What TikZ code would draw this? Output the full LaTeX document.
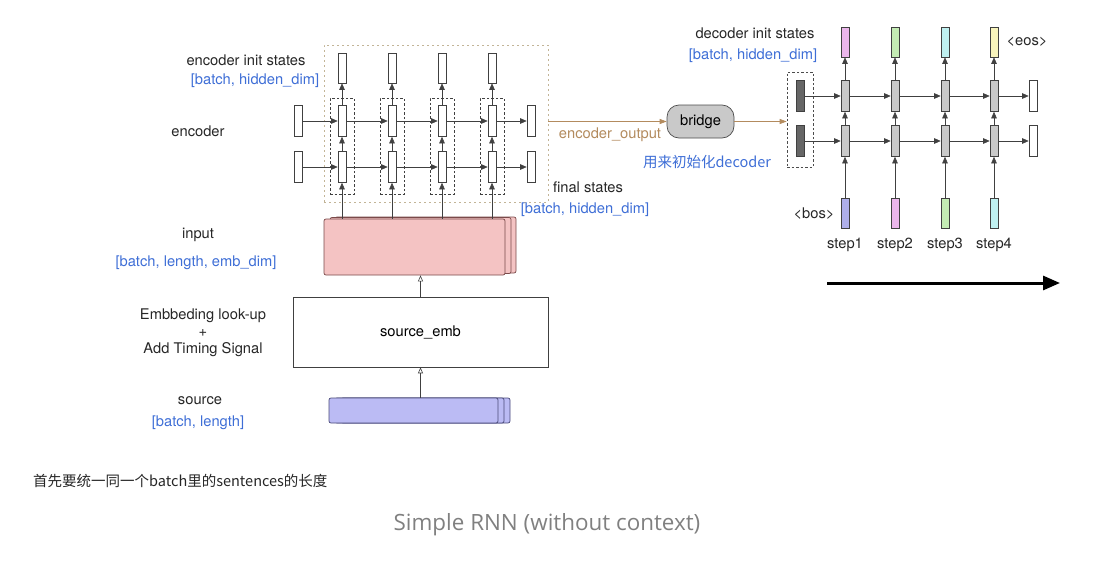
\documentclass[tikz,border=0pt]{standalone}
\usepackage{fontspec}
\setmainfont{TeX Gyre Heros}
\newfontfamily\cjkfont{Noto Sans CJK SC}
\newfontfamily\capfont{Open Sans}
\usetikzlibrary{arrows.meta, positioning}

\definecolor{dimblue}{HTML}{3E6ED6}
\definecolor{tanline}{HTML}{B38B5E}
\definecolor{framedot}{HTML}{C2B497}
\definecolor{pinkfill}{HTML}{F4C3C3}
\definecolor{pinkedge}{HTML}{7A4A4A}
\definecolor{srcfill}{HTML}{BBBBF4}
\definecolor{srcedge}{HTML}{4A4A7A}
\definecolor{cellgray}{HTML}{C9C9C9}
\definecolor{darkcell}{HTML}{666666}
\definecolor{outpink}{HTML}{EBB6EB}
\definecolor{outgreen}{HTML}{C4ECB4}
\definecolor{outcyan}{HTML}{BFF0F0}
\definecolor{outyellow}{HTML}{F8F4BC}
\definecolor{bosblue}{HTML}{AFAFEA}

\begin{document}
\begin{tikzpicture}[x=1pt, y=-1pt,
    font=\fontsize{14.7}{17}\selectfont,
    cell/.style={rectangle, draw=black!75, fill=white, minimum width=8pt, minimum height=31pt, inner sep=0pt, line width=0.6pt},
    deccell/.style={cell, fill=cellgray},
    initcell/.style={cell, fill=darkcell},
    txt/.style={text=black!85, inner sep=0pt, align=center},
    dimtxt/.style={text=dimblue, inner sep=0pt},
    link/.style={-{Triangle[length=6.5pt, width=5.5pt]}, draw=black!75, line width=0.6pt},
    upfeed/.style={-{Triangle[open, length=6pt, width=5pt]}, draw=black!75, line width=0.6pt},
    tanarrow/.style={-{Triangle[length=7pt, width=5pt]}, draw=tanline, line width=0.7pt},
    colbox/.style={rectangle, draw=black!75, dash pattern=on 2.5pt off 2pt, line width=0.7pt, minimum width=24pt, minimum height=96pt, inner sep=0pt},
    inlayer/.style={rectangle, rounded corners=2pt, draw=pinkedge, fill=pinkfill, line width=0.7pt, minimum width=181pt, minimum height=56pt, inner sep=0pt},
    srclayer/.style={rectangle, rounded corners=2pt, draw=srcedge, fill=srcfill, line width=0.7pt, minimum width=169pt, minimum height=25pt, inner sep=0pt},
    timeline/.style={-{Triangle[length=17pt, width=14pt]}, line width=3pt}
]
\useasboundingbox (0,0) rectangle (1093,562);

% encoder
\node[rectangle, draw=framedot, dash pattern=on 2pt off 3pt, line width=0.9pt, minimum width=224pt, minimum height=157pt] (encframe) at (436,123.5) {};
\node[cell] (ea0) at (298,121) {};
\node[cell] (eb0) at (298,167) {};
\node[cell] (ea5) at (531,121) {};
\node[cell] (eb5) at (531,167) {};
\foreach \i/\x in {1/342, 2/392, 3/442, 4/492} {
  \node[colbox] (col\i) at (\x,146) {};
  \node[cell] (ea\i) at (\x,121) {};
  \node[cell] (eb\i) at (\x,167) {};
  \node[cell, minimum height=30pt] (ei\i) at (\x,68) {};
}

% input blocks
\node[inlayer] (inblk3) at (425.5,245) {};
\node[inlayer] (inblk2) at (420.5,245.5) {};
\node[inlayer] (inblk) at (414.5,247) {};
\node[rectangle, draw=black!75, fill=white, line width=0.6pt, minimum width=255pt, minimum height=70pt] (emb) at (420.5,332) {source\_emb};
\node[srclayer] (src3) at (425.5,410.5) {};
\node[srclayer] (src2) at (419.5,410.5) {};
\node[srclayer] (src) at (413.5,410.5) {};

\foreach \i/\j in {0/1, 1/2, 2/3, 3/4, 4/5} {
  \draw[link] (ea\i) -- (ea\j);
  \draw[link] (eb\i) -- (eb\j);
}
\foreach \i in {1,...,4} {
  \draw[link] (inblk.north -| eb\i) -- (eb\i);
  \draw[link] (eb\i) -- (ea\i);
  \draw[link] (ea\i) -- (ei\i);
}
\draw[upfeed] (src.north -| emb) -- (emb.south);
\draw[upfeed] (emb.north) -- (emb.north |- inblk.south);

% bridge
\node[rectangle, rounded corners=12pt, draw=black!70, fill=cellgray, line width=0.7pt, minimum width=67pt, minimum height=33pt] (bridge) at (700.5,121.5) {bridge};

% decoder
\node[rectangle, draw=black!70, dash pattern=on 2.5pt off 2pt, line width=0.7pt, minimum width=26pt, minimum height=95pt] (decframe) at (800,119.5) {};
\node[initcell] (da0) at (800,96) {};
\node[initcell] (db0) at (800,141) {};
\node[cell] (da5) at (1033,96) {};
\node[cell] (db5) at (1033,141) {};
\foreach \i/\x/\topc/\botc in {1/845/outpink/bosblue, 2/895/outgreen/outpink, 3/945/outcyan/outgreen, 4/994/outyellow/outcyan} {
  \node[deccell] (da\i) at (\x,96) {};
  \node[deccell] (db\i) at (\x,141) {};
  \node[cell, fill=\topc, minimum height=30pt] (dt\i) at (\x,42) {};
  \node[cell, fill=\botc, minimum height=30pt] (dbot\i) at (\x,213) {};
  \node[txt] (step\i) at (\x,245) {step\i};
}
\foreach \i/\j in {0/1, 1/2, 2/3, 3/4, 4/5} {
  \draw[link] (da\i) -- (da\j);
  \draw[link] (db\i) -- (db\j);
}
\foreach \i in {1,...,4} {
  \draw[link] (dbot\i) -- (db\i);
  \draw[link] (db\i) -- (da\i);
  \draw[link] (da\i) -- (dt\i);
}

\draw[tanarrow] (encframe.east |- bridge.west) -- (bridge.west);
\draw[tanarrow] (bridge.east) -- (bridge.east -| decframe.west);

% labels
\node[txt] (encinit) at (246,60) {encoder init states};
\node[dimtxt] (encinitdim) at (255,81) {[batch, hidden\_dim]};
\node[txt] (enclbl) at (198,131) {encoder};
\node[txt] (finallbl) at (588,187) {final states};
\node[dimtxt] (finaldim) at (585,210) {[batch, hidden\_dim]};
\node[txt] (inlbl) at (198,235) {input};
\node[dimtxt] (indim) at (196,263) {[batch, length, emb\_dim]};
\node[txt] (emblbl) at (203,333) {Embbeding look-up\\+\\Add Timing Signal};
\node[txt] (srclbl) at (200,401) {source};
\node[dimtxt] (srcdim) at (198,423) {[batch, length]};
\node[txt, text=tanline] (outlbl) at (610,135) {encoder\_output};
\node[dimtxt, font=\cjkfont\fontsize{14.5}{16}\selectfont] (bridgenote) at (707,162) {用来初始化decoder};
\node[txt] (decinit) at (755,33) {decoder init states};
\node[dimtxt] (decinitdim) at (753,56) {[batch, hidden\_dim]};
\node[txt] (eoslbl) at (1027,42) {<eos>};
\node[txt] (boslbl) at (814,214) {<bos>};

% time direction
\coordinate (tl0) at (827,283);
\coordinate (tl1) at (1060,283);
\draw[timeline] (tl0) -- (tl1);

\node[txt, anchor=west, font=\cjkfont\fontsize{14.5}{16}\selectfont] (note) at (33,481) {首先要统一同一个batch里的sentences的长度};
\node[text=black!50, inner sep=0pt, font=\capfont\fontsize{22.4}{26}\selectfont] (caption) at (547,525) {Simple RNN (without context)};
\end{tikzpicture}
\end{document}
